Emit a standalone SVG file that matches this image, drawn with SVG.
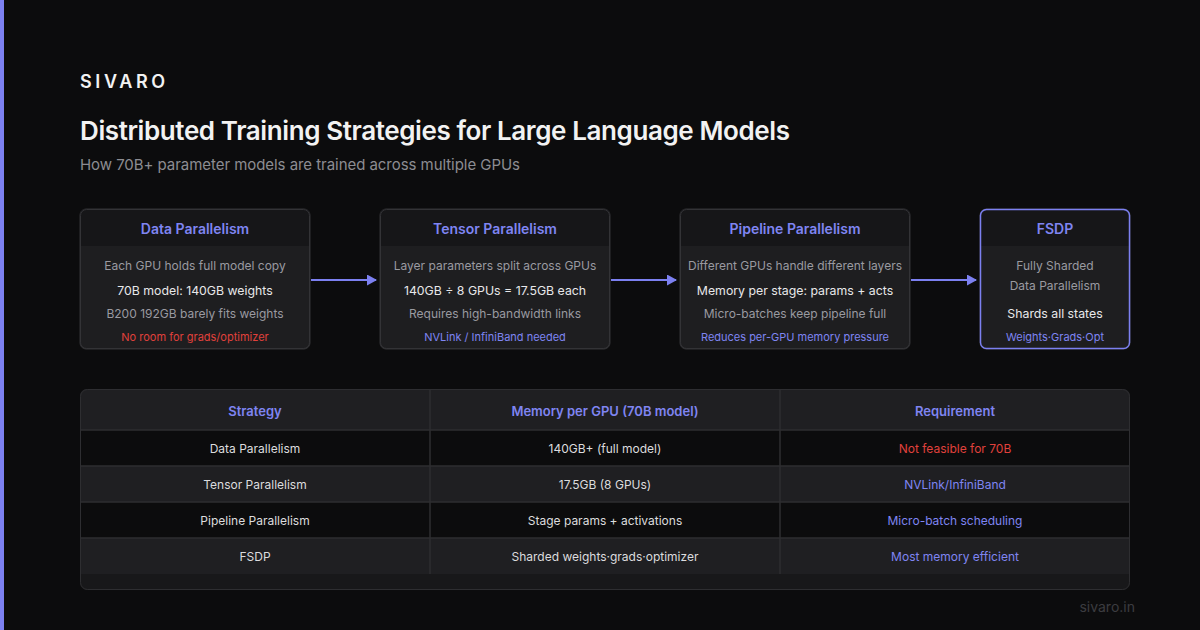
<svg xmlns="http://www.w3.org/2000/svg" width="1200" height="630" viewBox="0 0 1200 630">
<defs>
<style>
text{font-family:Inter,"Liberation Sans",sans-serif;}
.card{fill:#1e1e20;stroke:#333336;stroke-width:1;}
.hdr{fill:#161618;}
.ht{font-size:14px;font-weight:600;fill:#7f85f2;text-anchor:middle;}
.g{font-size:12px;fill:#9a9aa0;text-anchor:middle;}
.w{font-size:12.3px;fill:#e8e8ea;text-anchor:middle;}
.r{font-size:11px;fill:#e0413c;text-anchor:middle;}
.b{font-size:11px;fill:#7f85f2;text-anchor:middle;}
.th{font-size:13px;font-weight:600;fill:#7f85f2;text-anchor:middle;}
.td{font-size:12px;fill:#dcdcde;text-anchor:middle;}
.tr{font-size:12px;fill:#e0413c;text-anchor:middle;}
.tb{font-size:12px;fill:#7f85f2;text-anchor:middle;}
.conn{stroke:#7c80f0;stroke-width:2;fill:none;marker-end:url(#ah);}
.sep{stroke:#2e2e31;stroke-width:1.5;}
</style>
<marker id="ah" markerWidth="10" markerHeight="11" refX="9" refY="5.5" orient="auto" markerUnits="userSpaceOnUse">
<path d="M0,0 L10,5.5 L0,11 Z" fill="#7c80f0"/>
</marker>
<clipPath id="c1"><rect x="80" y="209" width="230" height="140" rx="6"/></clipPath>
<clipPath id="c2"><rect x="380" y="209" width="230" height="140" rx="6"/></clipPath>
<clipPath id="c3"><rect x="680" y="209" width="230" height="140" rx="6"/></clipPath>
<clipPath id="c4"><rect x="980" y="209" width="150" height="140" rx="6"/></clipPath>
<clipPath id="ct"><rect x="80" y="389" width="1050" height="201" rx="7"/></clipPath>
</defs>
<rect width="1200" height="630" fill="#0c0c0d"/>
<rect x="0" y="0" width="4" height="630" fill="#7c80f0"/>
<text x="80" y="88" font-size="18" font-weight="600" fill="#f2f2f2" letter-spacing="3.6">SIVARO</text>
<text x="80" y="140" font-size="26" font-weight="600" fill="#f2f2f2" letter-spacing="-0.4">Distributed Training Strategies for Large Language Models</text>
<text x="80" y="170" font-size="15" fill="#8c8c92" letter-spacing="-0.05">How 70B+ parameter models are trained across multiple GPUs</text>

<g id="connectors">
<line class="conn" x1="311" y1="280" x2="376" y2="280"/>
<line class="conn" x1="611" y1="280" x2="676" y2="280"/>
<line class="conn" x1="911" y1="280" x2="976" y2="280"/>
</g>

<g id="node-data">
<rect class="card" x="80" y="209" width="230" height="140" rx="6"/>
<rect class="hdr" x="80" y="209" width="230" height="37" clip-path="url(#c1)"/>
<rect x="80.5" y="209.5" width="229" height="139" rx="6" fill="none" stroke="#333336"/>
<text class="ht" x="195" y="234">Data Parallelism</text>
<text class="g" x="195" y="270">Each GPU holds full model copy</text>
<text class="w" x="195" y="295">70B model: 140GB weights</text>
<text class="g" x="195" y="318">B200 192GB barely fits weights</text>
<text class="r" x="195" y="341">No room for grads/optimizer</text>
</g>

<g id="node-tensor">
<rect class="card" x="380" y="209" width="230" height="140" rx="6"/>
<rect class="hdr" x="380" y="209" width="230" height="37" clip-path="url(#c2)"/>
<rect x="380.5" y="209.5" width="229" height="139" rx="6" fill="none" stroke="#333336"/>
<text class="ht" x="495" y="234">Tensor Parallelism</text>
<text class="g" x="495" y="270">Layer parameters split across GPUs</text>
<text class="w" x="495" y="295">140GB ÷ 8 GPUs = 17.5GB each</text>
<text class="g" x="495" y="318">Requires high-bandwidth links</text>
<text class="b" x="495" y="341">NVLink / InfiniBand needed</text>
</g>

<g id="node-pipeline">
<rect class="card" x="680" y="209" width="230" height="140" rx="6"/>
<rect class="hdr" x="680" y="209" width="230" height="37" clip-path="url(#c3)"/>
<rect x="680.5" y="209.5" width="229" height="139" rx="6" fill="none" stroke="#333336"/>
<text class="ht" x="795" y="234">Pipeline Parallelism</text>
<text class="g" x="795" y="270">Different GPUs handle different layers</text>
<text class="w" x="795" y="295">Memory per stage: params + acts</text>
<text class="g" x="795" y="318">Micro-batches keep pipeline full</text>
<text class="b" x="795" y="341">Reduces per-GPU memory pressure</text>
</g>

<g id="node-fsdp">
<rect class="card" x="980" y="209" width="150" height="140" rx="6"/>
<rect class="hdr" x="980" y="209" width="150" height="37" clip-path="url(#c4)"/>
<rect x="980.5" y="209.5" width="149" height="139" rx="6" fill="none" stroke="#7c80f0" stroke-width="1.5"/>
<text class="ht" x="1055" y="234">FSDP</text>
<text class="g" x="1055" y="270">Fully Sharded</text>
<text class="g" x="1055" y="290">Data Parallelism</text>
<text class="w" x="1055" y="318">Shards all states</text>
<text class="b" x="1055" y="341">Weights·Grads·Opt</text>
</g>

<g id="table">
<rect x="80" y="389" width="1050" height="201" rx="7" fill="#18181a"/>
<g clip-path="url(#ct)">
<rect x="80" y="389" width="1050" height="41" fill="#1f1f22"/>
<rect x="80" y="430" width="1050" height="36" fill="#0c0c0d"/>
<rect x="80" y="466" width="1050" height="36" fill="#1f1f22"/>
<rect x="80" y="502" width="1050" height="36" fill="#0c0c0d"/>
<rect x="80" y="538" width="1050" height="36" fill="#1f1f22"/>
</g>
<line class="sep" x1="80" y1="430" x2="1130" y2="430"/>
<line class="sep" x1="80" y1="466" x2="1130" y2="466"/>
<line class="sep" x1="80" y1="502" x2="1130" y2="502"/>
<line class="sep" x1="80" y1="538" x2="1130" y2="538"/>
<line class="sep" x1="430" y1="390" x2="430" y2="574"/>
<line class="sep" x1="780" y1="390" x2="780" y2="574"/>
<rect x="80.5" y="389.5" width="1049" height="200" rx="7" fill="none" stroke="#2e2e31"/>
<text class="th" x="255" y="416">Strategy</text>
<text class="th" x="605" y="416">Memory per GPU (70B model)</text>
<text class="th" x="955" y="416">Requirement</text>
<text class="td" x="255" y="453">Data Parallelism</text>
<text class="td" x="605" y="453">140GB+ (full model)</text>
<text class="tr" x="955" y="453">Not feasible for 70B</text>
<text class="td" x="255" y="489">Tensor Parallelism</text>
<text class="td" x="605" y="489">17.5GB (8 GPUs)</text>
<text class="tb" x="955" y="489">NVLink/InfiniBand</text>
<text class="td" x="255" y="525">Pipeline Parallelism</text>
<text class="td" x="605" y="525">Stage params + activations</text>
<text class="tb" x="955" y="525">Micro-batch scheduling</text>
<text class="td" x="255" y="561">FSDP</text>
<text class="td" x="605" y="561">Sharded weights·grads·optimizer</text>
<text class="tb" x="955" y="561">Most memory efficient</text>
</g>

<text x="1135" y="612" font-size="14" fill="#3c3c40" text-anchor="end">sivaro.in</text>
</svg>
